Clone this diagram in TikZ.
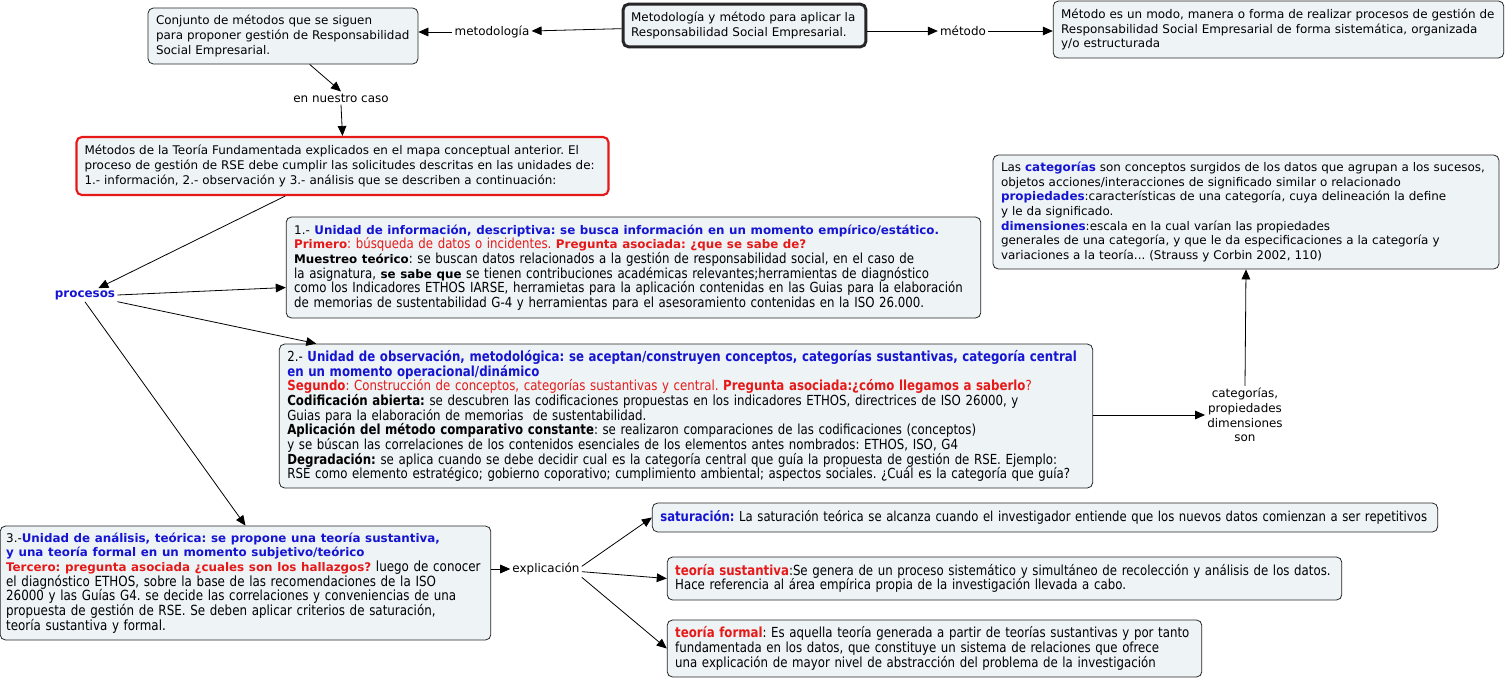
\documentclass[tikz,border=0pt]{standalone}
\usepackage{fontspec}
\setmainfont{DejaVu Sans}
\newfontfamily\cnd[FakeStretch=0.85]{DejaVu Sans}
\usetikzlibrary{arrows.meta}
\definecolor{boxfill}{RGB}{238,243,245}
\definecolor{bl}{RGB}{20,20,210}
\definecolor{rd}{RGB}{230,25,25}
\newcommand\vf{\frenchspacing\fontsize{8.95}{11}\selectfont}
\newcommand\cf{\frenchspacing\cnd\fontsize{10.4}{11}\selectfont}
\newcommand\cfb{\frenchspacing\cnd\fontsize{10.5}{11}\selectfont}
\newcommand\vb[1]{{\normalfont\bfseries\fontsize{8.9}{11}\selectfont #1}}
\hyphenpenalty=10000
\tikzset{
  box/.style={draw=black!85, line width=0.6pt, fill=boxfill, rounded corners=4pt,
    inner xsep=6pt, inner ysep=2pt, align=left, font=\vf},
  cbox/.style={box, font=\cf},
  lbl/.style={font=\vf, inner sep=1.5pt, align=center},
  arr/.style={-{Triangle[length=7.5pt,width=6.5pt]}, line width=0.6pt},
}
\begin{document}
\begin{tikzpicture}[x=0.75pt,y=-0.75pt]
\useasboundingbox (0,0) rectangle (1507,679);

\node[box, text width=190.5pt, minimum height=42pt] (A) at (283,36)
 {Conjunto de métodos que se siguen\\para proponer gestión de Responsabilidad\\Social Empresarial.};
\node[box, line width=2.2pt, text width=170pt, minimum height=32pt] (main) at (744.5,25.5)
 {Metodología y método para aplicar la\\Responsabilidad Social Empresarial.};
\node[box, text width=326pt, minimum height=42.75pt] (M) at (1278.5,29.5)
 {Método es un modo, manera o forma de realizar procesos de gestión de\\Responsabilidad Social Empresarial de forma sistemática, organizada\\y/o estructurada};
\node[box, draw=rd, line width=1.6pt, text width=387pt, minimum height=43.5pt] (red) at (342.5,166)
 {Métodos de la Teoría Fundamentada explicados en el mapa conceptual anterior. El\\proceso de gestión de RSE debe cumplir las solicitudes descritas en las unidades de:\\1.- información, 2.- observación y 3.- análisis que se describen a continuación:};

\node[cbox, text width=509pt, minimum height=75.75pt] (b1) at (633.5,267.5)
 {{\normalfont\fontsize{8.95}{11}\selectfont 1.- }\vb{\color{bl}Unidad de información, descriptiva: se busca información en un momento empírico/estático.}\\
 {\color{rd}\vb{Primero}: búsqueda de datos o incidentes. \vb{Pregunta asociada: ¿que se sabe de?}}\\
 \vb{Muestreo teórico}: se buscan datos relacionados a la gestión de responsabilidad social, en el caso de\\
 la asignatura, \vb{se sabe que} se tienen contribuciones académicas relevantes;herramientas de diagnóstico\\
 como los Indicadores ETHOS IARSE, herramietas para la aplicación contenidas en las Guias para la elaboración\\
 de memorias de sustentabilidad G-4 y herramientas para el asesoramiento contenidas en la ISO 26.000.};

\node[cbox, text width=598pt, minimum height=108pt] (b2) at (686,416)
 {2.- {\bfseries\color{bl}Unidad de observación, metodológica: se aceptan/construyen conceptos, categorías sustantivas, categoría central}\\
 {\bfseries\color{bl}en un momento operacional/dinámico}\\
 {\color{rd}\textbf{Segundo}: Construcción de conceptos, categorías sustantivas y central. \textbf{Pregunta asociada:¿cómo llegamos a saberlo}?}\\
 \textbf{Codificación abierta:} se descubren las codificaciones propuestas en los indicadores ETHOS, directrices de ISO 26000, y\\
 Guias para la elaboración de memorias~ de sustentabilidad.\\
 \textbf{Aplicación del método comparativo constante}: se realizaron comparaciones de las codificaciones (conceptos)\\
 y se búscan las correlaciones de los contenidos esenciales de los elementos antes nombrados: ETHOS, ISO, G4\\
 \textbf{Degradación:} se aplica cuando se debe decidir cual es la categoría central que guía la propuesta de gestión de RSE. Ejemplo:\\
 RSE como elemento estratégico; gobierno coporativo; cumplimiento ambiental; aspectos sociales. ¿Cuál es la categoría que guía?};

\node[box, text width=367.5pt, minimum height=85.5pt] (C) at (1246,212)
 {Las {\bfseries\color{bl}categorías} son conceptos surgidos de los datos que agrupan a los sucesos,\\
 objetos acciones/interacciones de significado similar o relacionado\\
 {\bfseries\color{bl}propiedades}:características de una categoría, cuya delineación la define\\
 y le da significado.\\
 {\bfseries\color{bl}dimensiones}:escala en la cual varían las propiedades\\
 generales de una categoría, y que le da especificaciones a la categoría y\\
 variaciones a la teoría... (Strauss y Corbin 2002, 110)};

\node[box, font=\cfb, inner xsep=4.5pt, text width=359pt, minimum height=85.5pt] (b3) at (245.5,583)
 {{\normalfont\fontsize{8.95}{11}\selectfont 3.-}\vb{\color{bl}Unidad de análisis, teórica: se propone una teoría sustantiva,}\\
 \vb{\color{bl}y una teoría formal en un momento subjetivo/teórico}\\
 \vb{\color{rd}Tercero: pregunta asociada ¿cuales son los hallazgos?} luego de conocer\\
 el diagnóstico ETHOS, sobre la base de las recomendaciones de la ISO\\
 26000 y las Guías G4. se decide las correlaciones y conveniencias de una\\
 propuesta de gestión de RSE. Se deben aplicar criterios de saturación,\\
 teoría sustantiva y formal.};

\node[box, font={\frenchspacing\cnd\fontsize{10.3}{11}\selectfont}, text width=577pt, minimum height=21.75pt] (sat) at (1045,517.5)
 {{\bfseries\color{bl}saturación:} La saturación teórica se alcanza cuando el investigador entiende que los nuevos datos comienzan a ser repetitivos};
\node[cbox, text width=494pt, minimum height=32.25pt] (sust) at (1004.5,578.5)
 {{\bfseries\color{rd}teoría sustantiva}:Se genera de un proceso sistemático y simultáneo de recolección y análisis de los datos.\\
 Hace referencia al área empírica propia de la investigación llevada a cabo.};
\node[cbox, text width=389pt, minimum height=42.75pt] (formal) at (934.5,648.5)
 {{\bfseries\color{rd}teoría formal}: Es aquella teoría generada a partir de teorías sustantivas y por tanto\\
 fundamentada en los datos, que constituye un sistema de relaciones que ofrece\\
 una explicación de mayor nivel de abstracción del problema de la investigación};

% labels
\node[lbl] (metod) at (492,32) {metodología};
\node[lbl] (metodo) at (963,31) {método};
\node[lbl] (caso) at (341,98) {en nuestro caso};
\node[lbl, font=\vf\bfseries, text=bl] (proc) at (85,295) {procesos};
\node[lbl] (cat) at (1245,415) {categorías,\\propiedades\\dimensiones\\son};
\node[lbl] (expl) at (546,569) {explicación};

% connectors
\draw[arr] (main) -- (metod);
\draw[arr] (metod) -- (A.east |- metod);
\draw[arr] (main.east |- metodo) -- (metodo);
\draw[arr] (metodo) -- (M.west |- metodo);
\draw[arr] ([xshift=20pt]A.south) -- (caso.north);
\draw[arr] (caso.south) -- (red.north);
\draw[arr] ([xshift=-43pt]red.south) -- ([xshift=10pt]proc.north);
\draw[arr] (proc.east) -- ([yshift=-15pt]b1.west);
\draw[arr] ([yshift=-5pt]proc.east) -- ([xshift=28pt]b2.north west);
\draw[arr] (proc.south) -- (b3.north);
\draw[arr] (b2.east |- cat) -- (cat.west);
\draw[arr] (cat.north) -- (C.south);
\draw[arr] (b3.east |- expl) -- (expl.west);
\draw[arr] ([yshift=2pt]expl.east) -- (sat.west);
\draw[arr] ([yshift=-2pt]expl.east) -- (sust.west);
\draw[arr] (expl.south east) -- (formal.west);
\end{tikzpicture}
\end{document}
